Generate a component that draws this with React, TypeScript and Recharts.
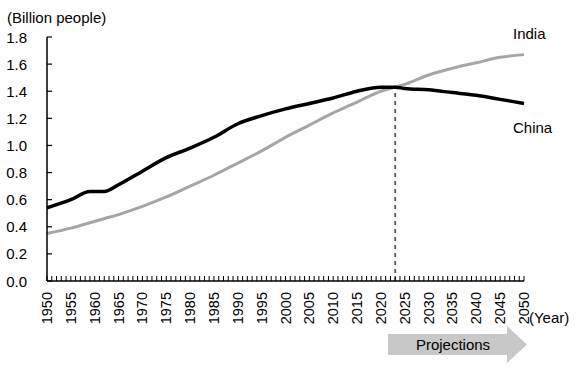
import React from 'react';
import { LineChart, Line, XAxis, YAxis, ReferenceLine } from 'recharts';

const years = [1950, 1955, 1959, 1962, 1965, 1970, 1975, 1980, 1985, 1990, 1995, 2000, 2005, 2010, 2015, 2020, 2023, 2025, 2030, 2035, 2040, 2045, 2050];
const china = [0.54, 0.60, 0.66, 0.66, 0.71, 0.81, 0.91, 0.98, 1.06, 1.16, 1.22, 1.27, 1.31, 1.35, 1.40, 1.43, 1.43, 1.42, 1.41, 1.39, 1.37, 1.34, 1.31];
const india = [0.35, 0.39, 0.43, 0.46, 0.49, 0.55, 0.62, 0.70, 0.78, 0.87, 0.96, 1.06, 1.15, 1.24, 1.32, 1.40, 1.43, 1.45, 1.52, 1.57, 1.61, 1.65, 1.67];
const yTicks = [0, 0.2, 0.4, 0.6, 0.8, 1.0, 1.2, 1.4, 1.6, 1.8];
const xTicks: number[] = [];
for (let y = 1950; y <= 2050; y++) xTicks.push(y);
const projectionStart = 2023;
const projectionValue = 1.43;

const data = years.map((yr, i) => ({ year: yr, china: china[i], india: india[i] }));

const FONT = '"Liberation Sans", Arial, sans-serif';

const XTick = (props: any) => {
  const { x, y, payload } = props;
  const v = payload.value as number;
  return (
    <g>
      <line x1={x} y1={y} x2={x} y2={y - 5} stroke="#000" strokeWidth={1} />
      {v % 5 === 0 && (
        <text
          x={0}
          y={0}
          transform={`translate(${x},${y + 11}) rotate(-90)`}
          textAnchor="end"
          dominantBaseline="central"
          fontSize={14.5}
          fontFamily={FONT}
          fill="#000"
        >
          {v}
        </text>
      )}
    </g>
  );
};

const YTick = (props: any) => {
  const { x, y, payload } = props;
  return (
    <g>
      <line x1={x} y1={y} x2={x + 5} y2={y} stroke="#000" strokeWidth={1.2} />
      <text x={x - 20} y={y} textAnchor="end" dominantBaseline="central" fontSize={15} fontFamily={FONT} fill="#000">
        {(payload.value as number).toFixed(1)}
      </text>
    </g>
  );
};

export default function App() {
  return (
    <div style={{ position: 'absolute', left: 0, top: 0, width: 583, height: 369, background: '#fff' }}>
      <LineChart width={583} height={369} data={data} margin={{ top: 37, right: 59, bottom: 48, left: 0 }}>
        <XAxis
          dataKey="year"
          type="number"
          domain={[1950, 2050]}
          ticks={xTicks}
          interval={0}
          tickSize={0}
          tickMargin={0}
          tickLine={false}
          tick={<XTick />}
          height={40}
          axisLine={{ stroke: '#000', strokeWidth: 1.5 }}
        />
        <YAxis
          type="number"
          domain={[0, 1.8]}
          ticks={yTicks}
          interval={0}
          tickSize={0}
          tickMargin={0}
          tickLine={false}
          tick={<YTick />}
          width={47}
          axisLine={{ stroke: '#000', strokeWidth: 1.5 }}
        />
        <ReferenceLine
          segment={[{ x: projectionStart, y: 0 }, { x: projectionStart, y: projectionValue }]}
          stroke="#595959"
          strokeWidth={1.8}
          strokeDasharray="4 4"
        />
        <Line dataKey="india" type="monotone" stroke="#a6a6a6" strokeWidth={3} dot={false} isAnimationActive={false} />
        <Line dataKey="china" type="monotone" stroke="#000" strokeWidth={3.5} dot={false} isAnimationActive={false} />
      </LineChart>
      <svg width={583} height={369} style={{ position: 'absolute', left: 0, top: 0, pointerEvents: 'none' }}>
        <text x={7} y={23} fontSize={15} fontFamily={FONT} fill="#000">(Billion people)</text>
        <text x={513} y={39} fontSize={15} fontFamily={FONT} fill="#000">India</text>
        <text x={513} y={133} fontSize={15} fontFamily={FONT} fill="#000">China</text>
        <text x={529} y={323} fontSize={15} fontFamily={FONT} fill="#000">(Year)</text>
        <polygon points="388,334 507,334 507,326 527,344.5 507,363 507,355 388,355" fill="#c8c8c8" />
        <text x={453} y={350} textAnchor="middle" fontSize={15} fontFamily={FONT} fill="#000">Projections</text>
      </svg>
    </div>
  );
}
